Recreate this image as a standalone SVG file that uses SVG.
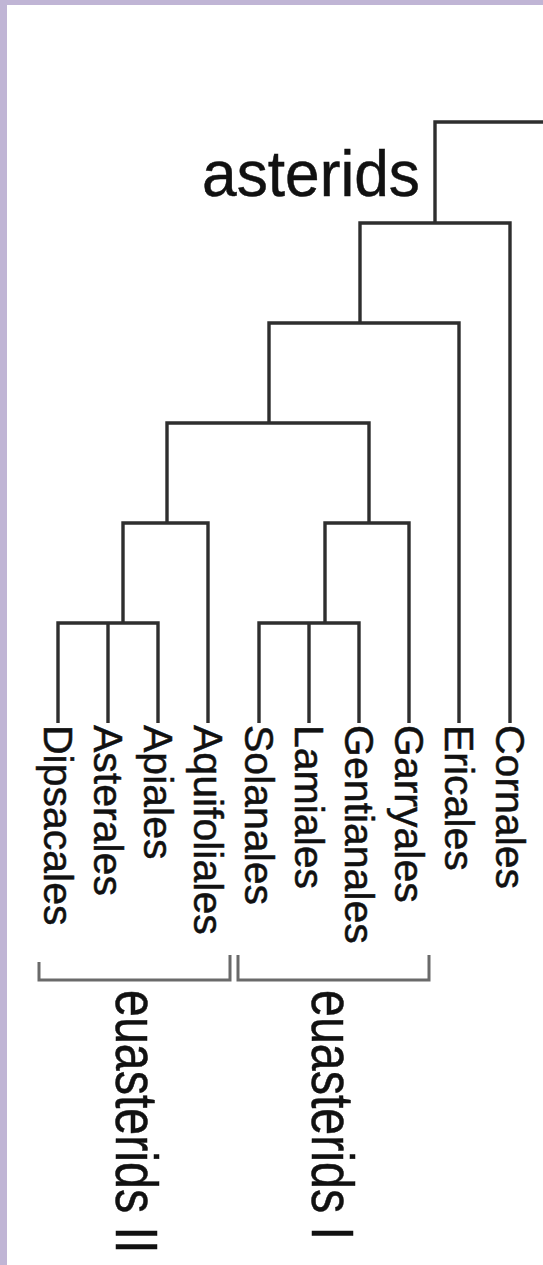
<svg xmlns="http://www.w3.org/2000/svg" width="543" height="1265" viewBox="0 0 543 1265">
<style>
.edge{fill:none;stroke:#2e2e2e;stroke-width:3.4;stroke-linejoin:miter;stroke-linecap:butt}
.brk{fill:none;stroke:#6a6a6a;stroke-width:3}
.lbl{font-family:"Liberation Sans",Arial,sans-serif;font-size:41px;fill:#111;stroke:#111;stroke-width:0.5}
.grp{font-family:"Liberation Sans",Arial,sans-serif;font-size:59px;fill:#111;stroke:#111;stroke-width:0.5}
</style>
<rect x="0" y="0" width="543" height="1265" fill="#ffffff"/>
<rect x="0" y="0" width="543" height="5" fill="#c0b5d5"/>
<rect x="0" y="0" width="7" height="1265" fill="#c0b5d5"/>
<g id="connectors">
<path class="edge" d="M543,122 H435 V223"/>
<path class="edge" d="M360,323 V223 H510 V723"/>
<path class="edge" d="M269,423 V323 H459 V723"/>
<path class="edge" d="M167,523 V423 H369 V523"/>
<path class="edge" d="M123,623 V523 H208 V723"/>
<path class="edge" d="M325,623 V523 H409 V723"/>
<path class="edge" d="M58,723 V623 H158 V723 M108,623 V723"/>
<path class="edge" d="M259,723 V623 H359 V723 M309,623 V723"/>
</g>
<g id="asterids"><text x="420" y="196" text-anchor="end" font-family="Liberation Sans, Arial, sans-serif" font-size="64" fill="#111" stroke="#111" stroke-width="0.5" textLength="218" lengthAdjust="spacingAndGlyphs">asterids</text></g>
<g id="Dipsacales"><text class="lbl" transform="translate(44,725) rotate(90)">Dipsacales</text></g>
<g id="Asterales"><text class="lbl" transform="translate(94,725) rotate(90)">Asterales</text></g>
<g id="Apiales"><text class="lbl" transform="translate(144,725) rotate(90)">Apiales</text></g>
<g id="Aquifoliales"><text class="lbl" transform="translate(194,725) rotate(90)">Aquifoliales</text></g>
<g id="Solanales"><text class="lbl" transform="translate(245,725) rotate(90)">Solanales</text></g>
<g id="Lamiales"><text class="lbl" transform="translate(295,725) rotate(90)">Lamiales</text></g>
<g id="Gentianales"><text class="lbl" transform="translate(345,725) rotate(90)">Gentianales</text></g>
<g id="Garryales"><text class="lbl" transform="translate(395,725) rotate(90)">Garryales</text></g>
<g id="Ericales"><text class="lbl" transform="translate(445,725) rotate(90)">Ericales</text></g>
<g id="Cornales"><text class="lbl" transform="translate(496,725) rotate(90)">Cornales</text></g>
<g id="euasterids-II">
<path class="brk" d="M39,962 V980 H230 V955"/>
<text class="grp" transform="translate(116,990) rotate(90) scale(0.82,1)">euasterids II</text>
</g>
<g id="euasterids-I">
<path class="brk" d="M238,955 V980 H429 V955"/>
<text class="grp" transform="translate(312,990) rotate(90) scale(0.82,1)">euasterids I</text>
</g>
</svg>
